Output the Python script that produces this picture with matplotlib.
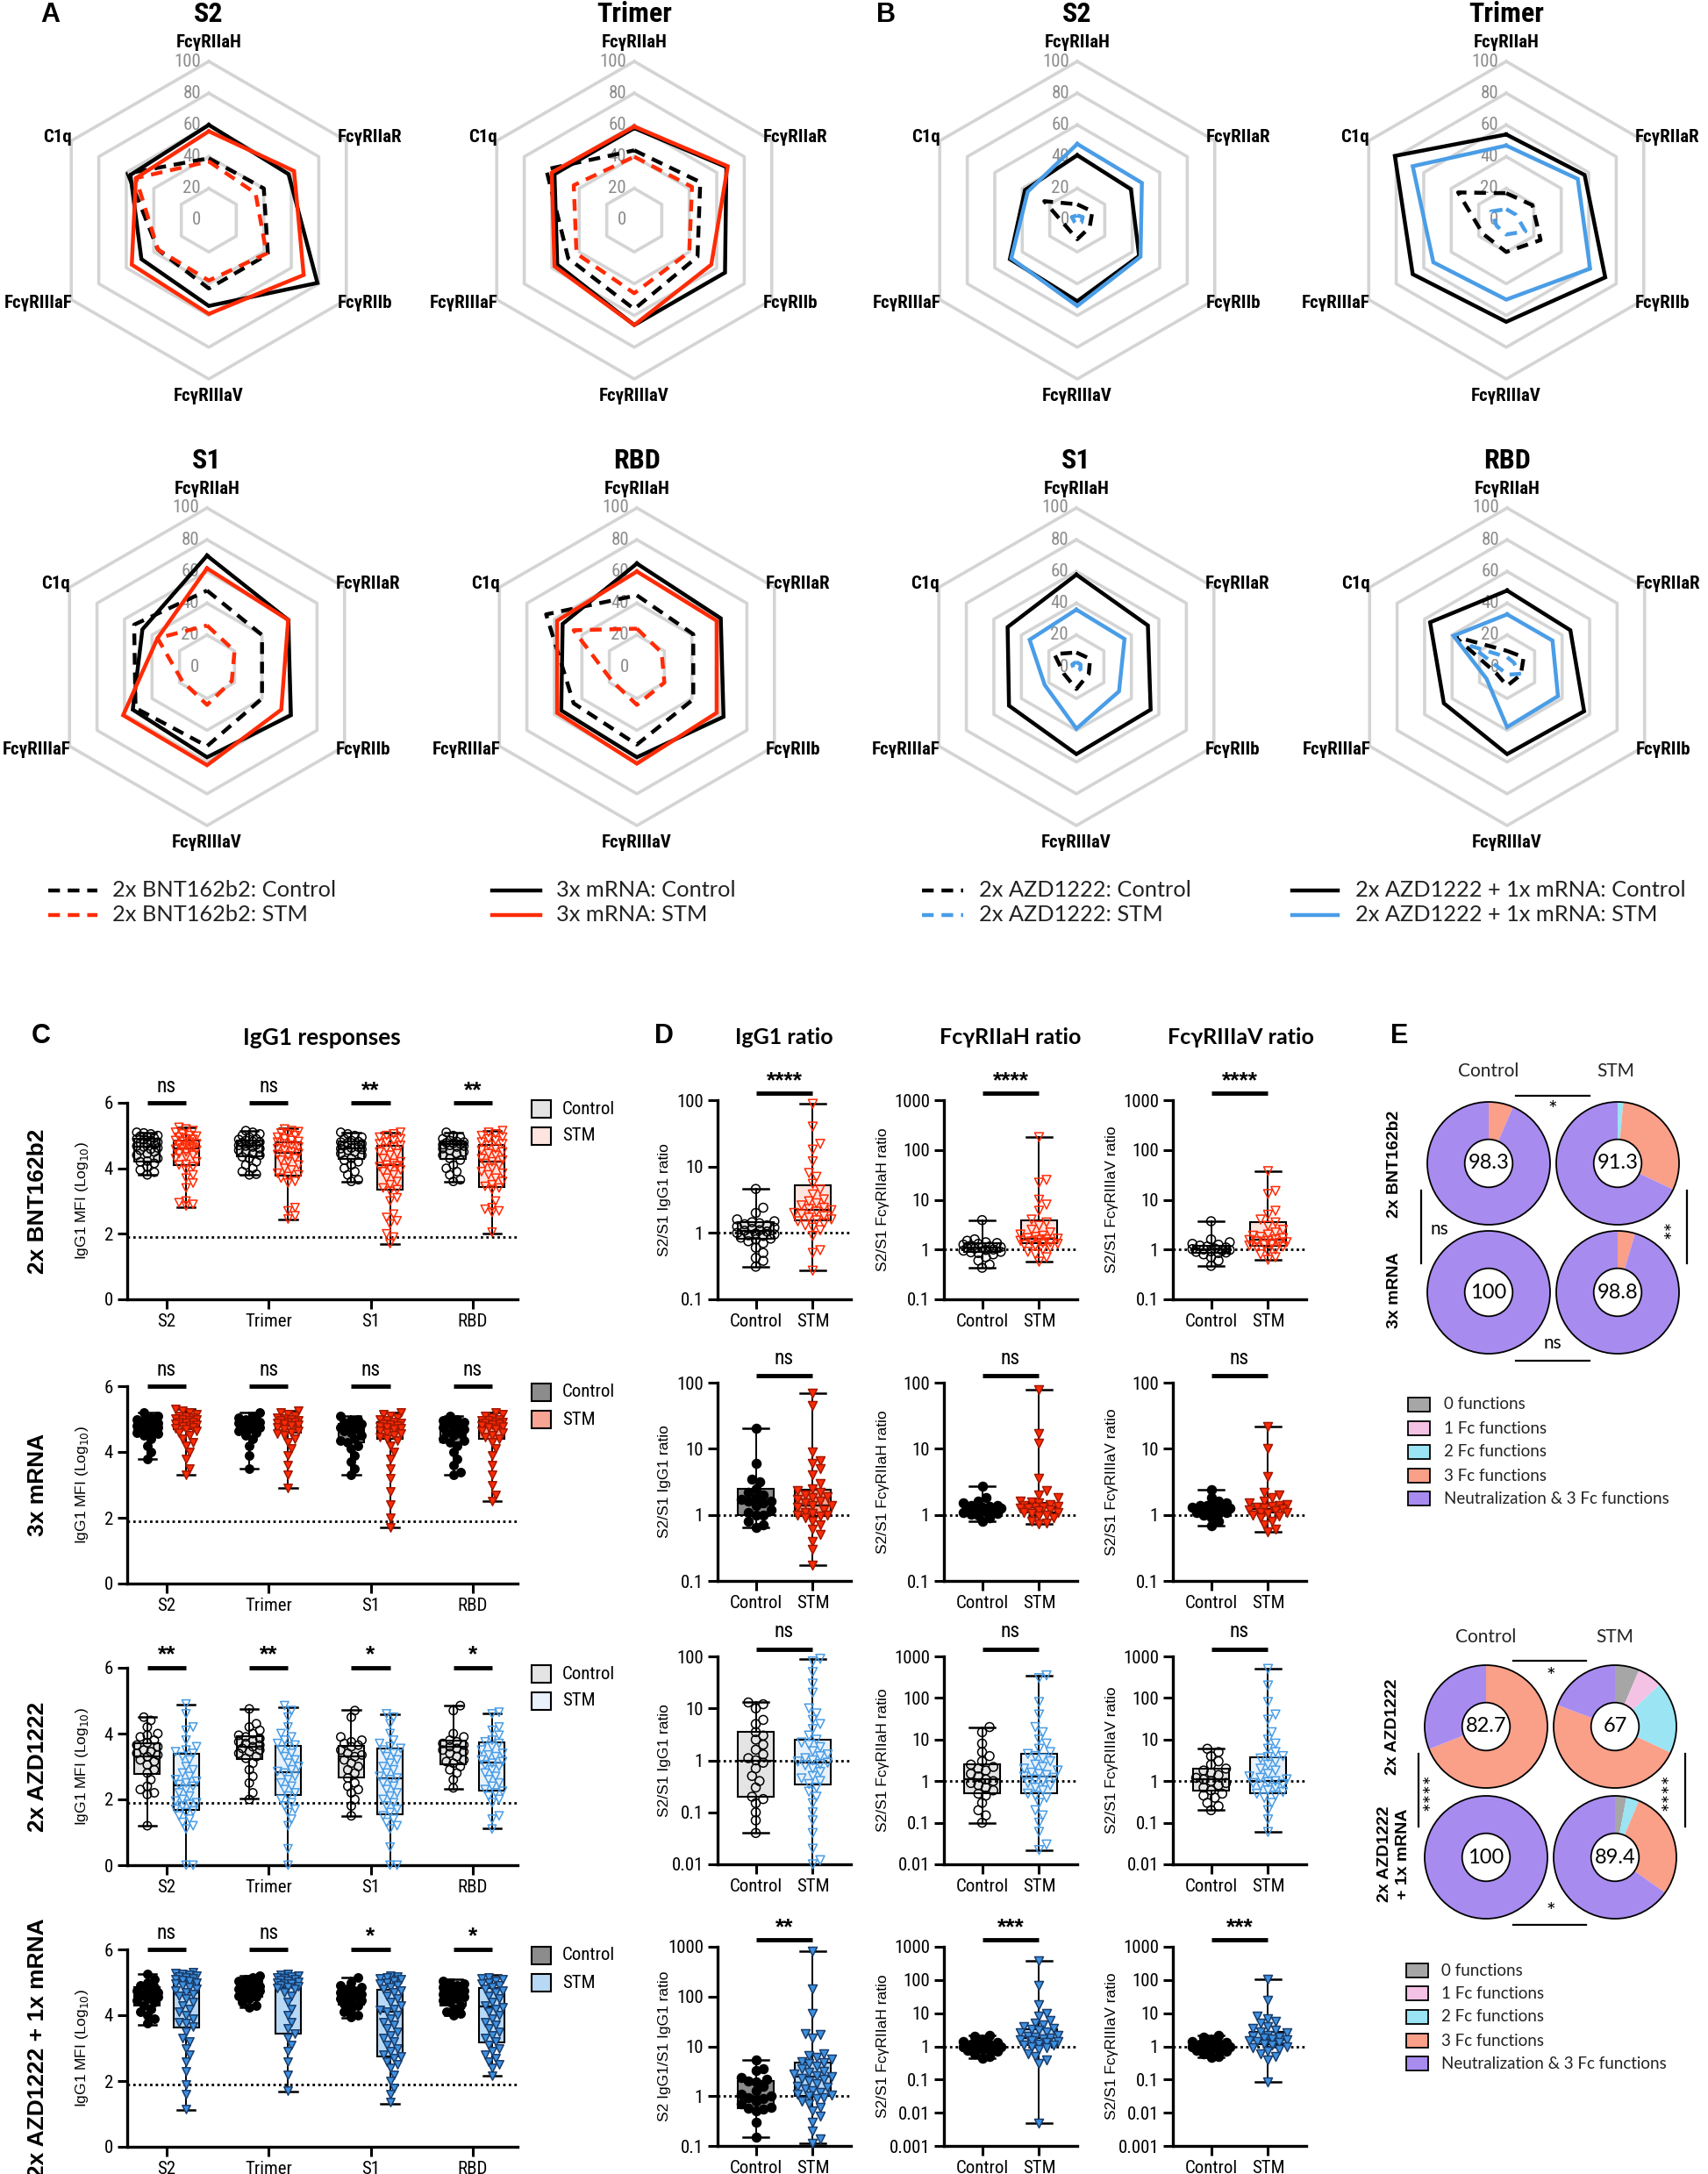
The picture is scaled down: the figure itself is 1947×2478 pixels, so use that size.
import os
import numpy as np
import matplotlib
matplotlib.use("Agg")
import matplotlib.pyplot as plt
from matplotlib import font_manager as fm
from matplotlib.font_manager import FontProperties
from matplotlib.patches import Rectangle, Circle
from matplotlib.lines import Line2D
import matplotlib.transforms as mtransforms

W, H = 1947, 2478
ARIAL = ["Liberation Sans", "DejaVu Sans"]
LATO = ["Lato", "DejaVu Sans"]
plt.rcParams["font.family"] = ARIAL

RED = "#ff2b06"
BLUE = "#4a9de6"
GRID = "#d4d4d4"

# ------------------------------------------------------------------
# DATA
# ------------------------------------------------------------------

# radar plots (A, B): % of max, order FcyRIIaH, FcyRIIaR, FcyRIIb, FcyRIIIaV, FcyRIIIaF, C1q
radar_labels = ["FcγRIIaH", "FcγRIIaR", "FcγRIIb", "FcγRIIIaV", "FcγRIIIaF", "C1q"]
radar_angles = [90, 30, -30, -90, 210, 150]
radar_levels = [0, 20, 40, 60, 80, 100]
radar_titles = ["S2", "Trimer", "S1", "RBD"]

A_bnt_ctrl = [[39, 40, 43, 43, 37, 59], [44, 48, 46, 56, 48, 64],
              [48, 40, 40, 50, 52, 53], [45, 41, 41, 49, 46, 66]]
A_bnt_stm = [[37, 34, 42, 38, 37, 53], [40, 42, 40, 46, 42, 44],
             [26, 20, 18, 24, 18, 36], [24, 18, 20, 24, 18, 46]]
A_mrna_ctrl = [[60, 58, 79, 54, 49, 57], [58, 67, 66, 66, 56, 58],
               [70, 59, 61, 57, 54, 47], [65, 61, 63, 57, 55, 54]]
A_mrna_stm = [[56, 62, 69, 59, 56, 53], [59, 68, 56, 66, 58, 60],
              [62, 59, 54, 62, 61, 36], [60, 58, 58, 61, 58, 58]]

B_azd_ctrl = [[10, 11, 9, 12, 8, 24], [17, 19, 25, 20, 17, 35],
              [9, 10, 9, 14, 9, 16], [10, 12, 10, 12, 8, 38]]
B_azd_stm = [[3, 4, 3, 3, 2, 4], [7, 7, 14, 9, 7, 11],
             [3, 3, 3, 3, 2, 3], [6, 5, 9, 5, 4, 26]]
B_boost_ctrl = [[41, 39, 45, 51, 49, 38], [54, 57, 72, 64, 68, 81],
                [58, 52, 54, 55, 49, 50], [48, 46, 56, 55, 46, 56]]
B_boost_stm = [[48, 47, 46, 54, 48, 36], [47, 52, 61, 50, 53, 68],
               [36, 35, 31, 39, 23, 34], [33, 33, 37, 38, 15, 39]]

A_legend = ["2x BNT162b2: Control", "2x BNT162b2: STM", "3x mRNA: Control", "3x mRNA: STM"]
B_legend = ["2x AZD1222: Control", "2x AZD1222: STM",
            "2x AZD1222 + 1x mRNA: Control", "2x AZD1222 + 1x mRNA: STM"]

# panel C: IgG1 MFI (log10), box stats = [min, q1, median, q3, max] for S2, Trimer, S1, RBD
c_antigens = ["S2", "Trimer", "S1", "RBD"]
c_rows = ["2x BNT162b2", "3x mRNA", "2x AZD1222", "2x AZD1222 + 1x mRNA"]
c_sig = [["ns", "ns", "**", "**"], ["ns", "ns", "ns", "ns"],
         ["**", "**", "*", "*"], ["ns", "ns", "*", "*"]]
c_lod = 1.9

c_bnt_ctrl_stats = [[3.8, 4.2, 4.65, 4.9, 5.1], [3.8, 4.37, 4.7, 4.86, 5.15],
                    [3.58, 4.28, 4.62, 4.81, 5.1], [3.6, 4.28, 4.73, 4.81, 5.1]]
c_bnt_stm_stats = [[2.82, 4.1, 4.6, 4.86, 5.26], [2.44, 3.79, 4.46, 4.79, 5.21],
                   [1.68, 3.35, 4.1, 4.7, 5.1], [2.02, 3.44, 4.21, 4.72, 5.15]]
c_mrna_ctrl_stats = [[3.8, 4.6, 4.85, 5.0, 5.2], [3.5, 4.65, 4.85, 5.0, 5.2],
                     [3.3, 4.3, 4.7, 4.85, 5.1], [3.3, 4.3, 4.65, 4.85, 5.1]]
c_mrna_stm_stats = [[3.3, 4.7, 4.9, 5.05, 5.3], [2.9, 4.6, 4.85, 5.0, 5.25],
                    [1.7, 4.4, 4.75, 4.9, 5.2], [2.5, 4.4, 4.8, 4.95, 5.2]]
c_azd_ctrl_stats = [[1.21, 2.78, 3.32, 3.72, 4.5], [2.03, 3.23, 3.6, 3.91, 4.76],
                    [1.49, 2.67, 3.32, 3.64, 4.71], [2.32, 3.07, 3.61, 3.78, 4.85]]
c_azd_stm_stats = [[0.0, 1.67, 2.44, 3.4, 4.87], [0.0, 2.13, 2.84, 3.63, 4.81],
                   [0.0, 1.56, 2.63, 3.54, 4.58], [1.11, 2.27, 3.11, 3.73, 4.62]]
c_boost_ctrl_stats = [[3.72, 4.3, 4.59, 4.86, 5.26], [4.25, 4.56, 4.86, 5.04, 5.21],
                      [3.92, 4.32, 4.56, 4.81, 5.14], [4.01, 4.3, 4.59, 4.86, 5.1]]
c_boost_stm_stats = [[1.11, 3.64, 4.7, 5.05, 5.3], [1.67, 3.43, 4.85, 4.97, 5.25],
                     [1.31, 2.76, 4.12, 4.77, 5.24], [2.16, 3.18, 4.26, 4.83, 5.23]]

c_bnt_ctrl_pts = [
    [5.1, 5.08, 5.05, 5.0, 4.98, 4.95, 4.92, 4.9, 4.88, 4.85, 4.8, 4.78, 4.75, 4.72, 4.68,
     4.65, 4.62, 4.58, 4.55, 4.5, 4.45, 4.4, 4.3, 4.22, 4.2, 4.15, 4.05, 3.95, 3.88, 3.8],
    [5.15, 5.1, 5.05, 5.0, 4.95, 4.9, 4.88, 4.85, 4.82, 4.8, 4.78, 4.75, 4.72, 4.7, 4.68,
     4.65, 4.6, 4.55, 4.5, 4.45, 4.4, 4.35, 4.3, 4.2, 4.1, 4.0, 3.9, 3.82, 3.8],
    [5.1, 5.05, 5.0, 4.95, 4.9, 4.85, 4.82, 4.8, 4.78, 4.75, 4.72, 4.7, 4.65, 4.62, 4.6,
     4.58, 4.55, 4.5, 4.45, 4.4, 4.3, 4.25, 4.2, 4.1, 4.0, 3.9, 3.8, 3.65, 3.6],
    [5.1, 5.0, 4.95, 4.9, 4.85, 4.82, 4.8, 4.78, 4.76, 4.74, 4.72, 4.7, 4.68, 4.65, 4.6,
     4.55, 4.5, 4.45, 4.4, 4.3, 4.25, 4.1, 4.0, 3.9, 3.8, 3.65, 3.6]]
c_bnt_stm_pts = [
    [5.25, 5.2, 5.15, 5.1, 5.05, 5.0, 4.98, 4.95, 4.9, 4.88, 4.85, 4.82, 4.8, 4.75, 4.72,
     4.7, 4.65, 4.62, 4.6, 4.58, 4.55, 4.5, 4.45, 4.4, 4.35, 4.3, 4.2, 4.12, 4.1, 4.05,
     3.95, 3.8, 3.7, 3.55, 3.4, 3.0, 2.95, 2.9, 2.85],
    [5.2, 5.15, 5.12, 5.08, 5.05, 5.0, 4.95, 4.9, 4.85, 4.82, 4.8, 4.75, 4.7, 4.65, 4.6,
     4.55, 4.5, 4.45, 4.42, 4.38, 4.3, 4.25, 4.2, 4.1, 4.0, 3.95, 3.85, 3.8, 3.75, 3.7,
     3.6, 3.55, 2.8, 2.7, 2.55, 2.45],
    [5.1, 5.05, 5.0, 4.95, 4.9, 4.85, 4.8, 4.75, 4.7, 4.65, 4.6, 4.5, 4.45, 4.4, 4.3,
     4.2, 4.15, 4.1, 4.08, 4.05, 4.0, 3.95, 3.9, 3.8, 3.7, 3.6, 3.5, 3.4, 3.35, 3.3,
     3.1, 3.0, 2.6, 2.5, 2.4, 2.3, 2.0, 1.9, 1.7],
    [5.15, 5.1, 5.05, 5.0, 4.95, 4.9, 4.85, 4.8, 4.75, 4.7, 4.6, 4.55, 4.5, 4.45, 4.4,
     4.3, 4.25, 4.2, 4.15, 4.1, 4.0, 3.9, 3.85, 3.8, 3.7, 3.6, 3.5, 3.45, 3.4, 3.35,
     3.0, 2.8, 2.75, 2.7, 2.65, 2.05]]
c_mrna_ctrl_pts = [
    [5.2, 5.1, 5.05, 5.0, 4.98, 4.95, 4.92, 4.9, 4.88, 4.85, 4.82, 4.8, 4.75, 4.7, 4.65,
     4.6, 4.55, 4.5, 4.4, 4.2, 4.0, 3.8],
    [5.2, 5.1, 5.05, 5.0, 4.97, 4.95, 4.92, 4.9, 4.87, 4.85, 4.82, 4.8, 4.75, 4.7, 4.65,
     4.6, 4.5, 4.4, 4.2, 3.9, 3.5],
    [5.1, 5.0, 4.95, 4.9, 4.85, 4.8, 4.75, 4.72, 4.7, 4.65, 4.6, 4.5, 4.4, 4.35, 4.3,
     4.2, 4.1, 3.9, 3.7, 3.5, 3.3],
    [5.1, 5.0, 4.95, 4.9, 4.85, 4.8, 4.75, 4.7, 4.65, 4.6, 4.55, 4.5, 4.4, 4.35, 4.3,
     4.2, 4.0, 3.8, 3.6, 3.4, 3.3]]
c_mrna_stm_pts = [
    [5.3, 5.25, 5.2, 5.15, 5.1, 5.08, 5.05, 5.02, 5.0, 4.98, 4.95, 4.92, 4.9, 4.88, 4.85,
     4.82, 4.8, 4.78, 4.75, 4.72, 4.7, 4.65, 4.6, 4.5, 4.4, 4.3, 4.2, 4.0, 3.8, 3.5, 3.3],
    [5.25, 5.2, 5.15, 5.1, 5.05, 5.02, 5.0, 4.97, 4.95, 4.92, 4.9, 4.87, 4.85, 4.82, 4.8,
     4.75, 4.7, 4.65, 4.6, 4.55, 4.5, 4.4, 4.3, 4.1, 3.9, 3.6, 3.3, 2.9],
    [5.2, 5.15, 5.1, 5.05, 5.0, 4.95, 4.9, 4.88, 4.85, 4.82, 4.8, 4.78, 4.75, 4.72, 4.7,
     4.65, 4.6, 4.55, 4.5, 4.45, 4.4, 4.35, 4.2, 4.0, 3.8, 3.5, 3.2, 2.8, 2.4, 2.0, 1.7],
    [5.2, 5.15, 5.1, 5.05, 5.0, 4.97, 4.95, 4.92, 4.9, 4.87, 4.85, 4.82, 4.8, 4.77, 4.75,
     4.7, 4.65, 4.6, 4.5, 4.45, 4.4, 4.3, 4.1, 3.9, 3.6, 3.3, 3.0, 2.7, 2.5]]
c_azd_ctrl_pts = [
    [4.5, 4.4, 4.2, 4.0, 3.95, 3.9, 3.8, 3.72, 3.65, 3.6, 3.5, 3.45, 3.4, 3.35, 3.3,
     3.2, 3.15, 3.05, 2.9, 2.8, 2.6, 2.4, 2.3, 2.2, 2.15, 1.2],
    [4.75, 4.3, 4.2, 4.1, 4.0, 3.95, 3.9, 3.85, 3.8, 3.75, 3.7, 3.65, 3.6, 3.55, 3.5,
     3.45, 3.4, 3.3, 3.25, 3.1, 2.9, 2.7, 2.5, 2.2, 2.0],
    [4.7, 4.5, 3.9, 3.8, 3.75, 3.7, 3.65, 3.6, 3.5, 3.4, 3.35, 3.3, 3.2, 3.1, 3.0,
     2.9, 2.8, 2.65, 2.5, 2.4, 2.3, 2.2, 2.0, 1.8, 1.5],
    [4.85, 4.7, 4.0, 3.9, 3.8, 3.75, 3.7, 3.65, 3.6, 3.55, 3.5, 3.45, 3.4, 3.3, 3.2,
     3.15, 3.1, 3.0, 2.9, 2.8, 2.6, 2.35]]
c_azd_stm_pts = [
    [4.9, 4.6, 4.2, 4.1, 3.8, 3.6, 3.5, 3.45, 3.4, 3.3, 3.2, 3.0, 2.9, 2.8, 2.7, 2.6,
     2.55, 2.5, 2.45, 2.4, 2.3, 2.2, 2.1, 2.0, 1.95, 1.9, 1.85, 1.8, 1.7, 1.65, 1.6,
     1.5, 1.4, 1.3, 1.2, 1.1, 0.0, 0.0],
    [4.85, 4.7, 4.5, 4.2, 4.0, 3.9, 3.8, 3.7, 3.65, 3.6, 3.5, 3.4, 3.3, 3.2, 3.1, 3.0,
     2.9, 2.85, 2.8, 2.7, 2.6, 2.5, 2.4, 2.3, 2.2, 2.1, 2.0, 1.9, 1.8, 1.7, 1.6, 1.4,
     1.2, 0.5, 0.0],
    [4.6, 4.5, 4.3, 4.0, 3.8, 3.7, 3.6, 3.55, 3.5, 3.4, 3.3, 3.2, 3.1, 3.0, 2.9, 2.8,
     2.7, 2.65, 2.6, 2.5, 2.4, 2.3, 2.2, 2.1, 2.0, 1.9, 1.8, 1.7, 1.6, 1.5, 1.4, 1.3,
     1.2, 1.1, 0.55, 0.0, 0.0],
    [4.65, 4.6, 4.2, 4.1, 3.95, 3.8, 3.75, 3.7, 3.6, 3.5, 3.4, 3.35, 3.3, 3.2, 3.15,
     3.1, 3.05, 3.0, 2.9, 2.8, 2.7, 2.6, 2.5, 2.4, 2.3, 2.25, 2.2, 2.1, 2.0, 1.9, 1.5,
     1.4, 1.1]]
c_boost_ctrl_pts = [
    [5.25, 5.1, 5.0, 4.9, 4.85, 4.8, 4.75, 4.7, 4.65, 4.62, 4.6, 4.55, 4.5, 4.45, 4.4,
     4.3, 4.2, 4.1, 4.0, 3.9, 3.75],
    [5.2, 5.15, 5.1, 5.05, 5.0, 4.95, 4.9, 4.88, 4.85, 4.82, 4.8, 4.75, 4.7, 4.65, 4.6,
     4.55, 4.5, 4.4, 4.3, 4.25],
    [5.15, 5.0, 4.9, 4.85, 4.8, 4.75, 4.7, 4.65, 4.6, 4.55, 4.5, 4.45, 4.4, 4.35, 4.3,
     4.2, 4.1, 4.0, 3.95],
    [5.05, 5.0, 4.95, 4.9, 4.85, 4.8, 4.75, 4.7, 4.65, 4.6, 4.55, 4.5, 4.45, 4.4, 4.3,
     4.2, 4.1, 4.05, 4.0]]
c_boost_stm_pts = [
    [5.3, 5.28, 5.25, 5.22, 5.2, 5.18, 5.15, 5.12, 5.1, 5.08, 5.05, 5.0, 4.95, 4.9, 4.85,
     4.8, 4.75, 4.7, 4.65, 4.6, 4.5, 4.4, 4.3, 4.2, 4.1, 4.0, 3.9, 3.8, 3.75, 3.65, 3.5,
     3.3, 3.2, 3.0, 2.8, 2.6, 2.3, 1.9, 1.6, 1.15],
    [5.25, 5.22, 5.2, 5.18, 5.15, 5.12, 5.1, 5.08, 5.05, 5.02, 5.0, 4.97, 4.95, 4.9, 4.87,
     4.85, 4.82, 4.8, 4.7, 4.6, 4.4, 4.2, 4.0, 3.8, 3.6, 3.45, 3.3, 3.1, 2.9, 2.6, 2.2, 1.7],
    [5.2, 5.18, 5.15, 5.12, 5.1, 5.05, 5.0, 4.95, 4.9, 4.85, 4.8, 4.75, 4.7, 4.6, 4.5,
     4.4, 4.3, 4.2, 4.15, 4.1, 4.0, 3.9, 3.8, 3.7, 3.6, 3.5, 3.4, 3.3, 3.2, 3.1, 3.0, 2.9,
     2.8, 2.75, 2.7, 2.6, 2.5, 2.4, 2.2, 2.0, 1.8, 1.6, 1.35],
    [5.15, 5.12, 5.1, 5.05, 5.0, 4.95, 4.9, 4.85, 4.8, 4.75, 4.7, 4.6, 4.5, 4.4, 4.3,
     4.25, 4.2, 4.1, 4.0, 3.9, 3.8, 3.7, 3.6, 3.5, 3.4, 3.3, 3.2, 3.1, 3.0, 2.9, 2.8,
     2.7, 2.6, 2.5, 2.4, 2.15]]

# panel D: S2/S1 ratios, box stats = [min, q1, median, q3, max] for IgG1, FcyRIIaH, FcyRIIIaV
d_titles = ["IgG1 ratio", "FcγRIIaH ratio", "FcγRIIIaV ratio"]
d_ylabels = ["S2/S1 IgG1 ratio", "S2/S1 FcγRIIaH ratio", "S2/S1 FcγRIIIaV ratio"]
d_ylabel_boost = "S2 IgG1/S1 IgG1 ratio"
d_groups = ["Control", "STM"]
d_sig = [["****", "****", "****"], ["ns", "ns", "ns"], ["ns", "ns", "ns"], ["**", "***", "***"]]

d_bnt_ctrl_stats = [[0.31, 0.82, 1.06, 1.44, 4.6], [0.43, 0.89, 1.11, 1.36, 3.9],
                    [0.47, 0.87, 1.0, 1.18, 3.7]]
d_bnt_stm_stats = [[0.27, 1.56, 2.2, 5.3, 88], [0.57, 1.32, 1.62, 3.9, 181],
                   [0.62, 1.18, 1.58, 3.5, 37.5]]
d_mrna_ctrl_stats = [[0.64, 1.0, 1.62, 2.5, 20.5], [0.79, 1.03, 1.24, 1.38, 2.7],
                     [0.69, 1.07, 1.27, 1.38, 2.4]]
d_mrna_stm_stats = [[0.175, 0.95, 1.39, 2.38, 69], [0.72, 1.09, 1.31, 1.52, 79],
                    [0.55, 1.07, 1.22, 1.48, 21.6]]
d_azd_ctrl_stats = [[0.04, 0.2, 1.0, 3.5, 13], [0.1, 0.5, 1.1, 2.5, 20],
                    [0.2, 0.6, 1.1, 2.0, 6]]
d_azd_stm_stats = [[0.01, 0.35, 0.9, 2.5, 90], [0.022, 0.5, 1.3, 4.5, 350],
                   [0.06, 0.5, 1.0, 3.8, 500]]
d_boost_ctrl_stats = [[0.15, 0.58, 0.97, 1.98, 5.4], [0.45, 0.74, 1.0, 1.19, 2.2],
                      [0.47, 0.8, 1.0, 1.3, 2.2]]
d_boost_stm_stats = [[0.113, 0.99, 2.42, 4.8, 800], [0.0048, 1.08, 1.8, 3.3, 377],
                     [0.087, 1.2, 1.6, 2.7, 106]]

d_bnt_ctrl_pts = [
    [4.6, 2.4, 2.0, 1.6, 1.5, 1.45, 1.4, 1.35, 1.3, 1.25, 1.2, 1.15, 1.1, 1.08, 1.05, 1.0,
     0.98, 0.95, 0.92, 0.9, 0.85, 0.82, 0.8, 0.75, 0.7, 0.6, 0.5, 0.42, 0.38, 0.31],
    [3.9, 1.6, 1.5, 1.4, 1.35, 1.3, 1.25, 1.2, 1.15, 1.12, 1.1, 1.08, 1.05, 1.0, 0.98,
     0.95, 0.9, 0.88, 0.85, 0.8, 0.7, 0.6, 0.5, 0.43],
    [3.7, 1.6, 1.4, 1.3, 1.25, 1.2, 1.15, 1.1, 1.05, 1.02, 1.0, 0.98, 0.95, 0.92, 0.9,
     0.87, 0.85, 0.8, 0.7, 0.6, 0.47]]
d_bnt_stm_pts = [
    [88, 40, 22, 18, 12, 8, 7, 5.5, 4.5, 3.8, 3.2, 3.0, 2.8, 2.6, 2.4, 2.3, 2.2, 2.1, 2.0,
     1.9, 1.8, 1.7, 1.6, 1.55, 1.5, 1.4, 1.3, 1.2, 1.1, 0.9, 0.55, 0.5, 0.27],
    [181, 25, 22, 10, 8, 6, 4, 3.5, 3, 2.5, 2.2, 2.0, 1.9, 1.8, 1.7, 1.65, 1.6, 1.55, 1.5,
     1.45, 1.4, 1.35, 1.3, 1.25, 1.2, 1.1, 1.0, 0.9, 0.8, 0.7, 0.57],
    [37.5, 15, 13, 6, 5, 4, 3.5, 3.0, 2.5, 2.2, 2.0, 1.9, 1.8, 1.7, 1.6, 1.55, 1.5, 1.45,
     1.4, 1.35, 1.3, 1.25, 1.2, 1.15, 1.1, 1.0, 0.9, 0.8, 0.7, 0.62]]
d_mrna_ctrl_pts = [
    [20.5, 6.0, 3.5, 3.2, 2.5, 2.2, 2.0, 1.8, 1.7, 1.62, 1.6, 1.5, 1.4, 1.2, 1.1, 1.0,
     0.98, 0.8, 0.7, 0.64],
    [2.7, 1.8, 1.6, 1.5, 1.4, 1.38, 1.35, 1.3, 1.28, 1.25, 1.22, 1.2, 1.15, 1.1, 1.05,
     1.03, 1.0, 0.9, 0.79],
    [2.4, 1.8, 1.6, 1.5, 1.4, 1.38, 1.35, 1.3, 1.28, 1.25, 1.2, 1.15, 1.1, 1.07, 1.05,
     1.0, 0.9, 0.8, 0.69]]
d_mrna_stm_pts = [
    [69, 45, 9, 6.5, 6, 5, 4, 3, 2.5, 2.3, 2.2, 2.0, 1.9, 1.8, 1.7, 1.6, 1.5, 1.4, 1.38,
     1.3, 1.2, 1.1, 1.05, 1.0, 0.98, 0.95, 0.9, 0.8, 0.7, 0.6, 0.5, 0.4, 0.3, 0.175],
    [79, 17, 12, 3.6, 2.3, 2.0, 1.8, 1.6, 1.55, 1.5, 1.45, 1.4, 1.35, 1.32, 1.3, 1.28,
     1.25, 1.2, 1.15, 1.1, 1.09, 1.05, 1.0, 0.95, 0.9, 0.8, 0.75, 0.72],
    [21.6, 10, 3.8, 2.2, 2.0, 1.8, 1.6, 1.5, 1.45, 1.4, 1.35, 1.3, 1.25, 1.22, 1.2, 1.15,
     1.1, 1.07, 1.05, 1.0, 0.95, 0.9, 0.8, 0.7, 0.6, 0.55]]
d_azd_ctrl_pts = [
    [13, 12, 10, 6, 5, 3.5, 3.0, 2.5, 2.0, 1.6, 1.3, 1.1, 1.0, 0.9, 0.7, 0.5, 0.4, 0.3,
     0.2, 0.18, 0.15, 0.1, 0.07, 0.04],
    [20, 15, 8, 5, 4, 3, 2.5, 2.2, 2.0, 1.8, 1.5, 1.3, 1.1, 1.0, 0.9, 0.8, 0.7, 0.6, 0.5,
     0.45, 0.3, 0.2, 0.15, 0.1],
    [6, 5, 4, 3, 2.5, 2.0, 1.8, 1.6, 1.4, 1.2, 1.1, 1.0, 0.9, 0.8, 0.7, 0.6, 0.5, 0.45,
     0.4, 0.3, 0.25, 0.2]]
d_azd_stm_pts = [
    [90, 80, 50, 30, 20, 10, 8, 6, 5, 4, 3, 2.5, 2.2, 2.0, 1.8, 1.5, 1.3, 1.2, 1.1, 1.0,
     0.95, 0.9, 0.85, 0.8, 0.7, 0.6, 0.5, 0.45, 0.4, 0.35, 0.3, 0.25, 0.2, 0.15, 0.1,
     0.07, 0.04, 0.02, 0.012, 0.01],
    [350, 300, 80, 40, 20, 15, 10, 8, 6, 5, 4.5, 4, 3.5, 3, 2.5, 2.2, 2.0, 1.8, 1.6, 1.5,
     1.4, 1.3, 1.2, 1.1, 1.0, 0.9, 0.8, 0.7, 0.6, 0.5, 0.45, 0.4, 0.3, 0.2, 0.15, 0.1,
     0.06, 0.03, 0.022],
    [500, 200, 80, 40, 30, 15, 10, 8, 6, 5, 4, 3.8, 3.5, 3, 2.5, 2.0, 1.8, 1.5, 1.3, 1.2,
     1.1, 1.0, 0.95, 0.9, 0.85, 0.8, 0.7, 0.6, 0.55, 0.5, 0.45, 0.4, 0.3, 0.2, 0.12, 0.06]]
d_boost_ctrl_pts = [
    [5.4, 3.6, 3.3, 2.4, 2.2, 2.0, 1.9, 1.6, 1.3, 1.1, 1.0, 0.95, 0.9, 0.8, 0.7, 0.6,
     0.58, 0.55, 0.5, 0.3, 0.15],
    [2.2, 2.0, 1.5, 1.4, 1.3, 1.2, 1.15, 1.1, 1.05, 1.0, 0.98, 0.95, 0.9, 0.85, 0.8, 0.75,
     0.7, 0.6, 0.5, 0.45],
    [2.2, 1.9, 1.5, 1.4, 1.3, 1.25, 1.2, 1.1, 1.05, 1.0, 0.98, 0.95, 0.9, 0.85, 0.8, 0.75,
     0.7, 0.6, 0.5, 0.47]]
d_boost_stm_pts = [
    [800, 140, 45, 18, 17, 15, 7, 6.5, 6, 5.5, 5, 4.8, 4.5, 4, 3.5, 3.2, 3, 2.8, 2.6, 2.42,
     2.3, 2.2, 2.0, 1.8, 1.6, 1.5, 1.4, 1.3, 1.2, 1.1, 1.05, 1.0, 0.95, 0.9, 0.8, 0.7,
     0.6, 0.5, 0.4, 0.3, 0.2, 0.14, 0.113],
    [377, 70, 18, 10, 8, 6, 5, 4.5, 4, 3.5, 3.3, 3, 2.8, 2.5, 2.2, 2.0, 1.9, 1.8, 1.7,
     1.6, 1.5, 1.4, 1.3, 1.2, 1.1, 1.08, 1.0, 0.9, 0.8, 0.6, 0.5, 0.4, 0.3, 0.0048],
    [106, 25, 8, 7, 5.5, 5, 4, 3.5, 3, 2.7, 2.5, 2.2, 2.0, 1.9, 1.8, 1.7, 1.6, 1.5, 1.4,
     1.3, 1.2, 1.1, 1.0, 0.9, 0.8, 0.7, 0.6, 0.5, 0.4, 0.087]]

# panel E: polyfunctionality (% of donors), categories in legend order
e_categories = ["0 functions", "1 Fc functions", "2 Fc functions", "3 Fc functions",
                "Neutralization & 3 Fc functions"]
e_colors = ["#a6a6a6", "#f4c2e4", "#9ae4f4", "#fa9f88", "#a88bef"]
e_bnt_ctrl = [0, 0, 0, 6.5, 93.5]
e_bnt_stm = [0, 0, 1.5, 30.5, 68.0]
e_mrna_ctrl = [0, 0, 0, 0, 100]
e_mrna_stm = [0, 0, 0, 4.6, 95.4]
e_azd_ctrl = [0, 0, 0, 69.0, 31.0]
e_azd_stm = [6.4, 6.6, 19.0, 48.7, 19.3]
e_boost_ctrl = [0, 0, 0, 0, 100]
e_boost_stm = [3.0, 0, 3.4, 28.4, 65.2]
e_scores_top = ["98.3", "91.3", "100", "98.8"]
e_scores_bottom = ["82.7", "67", "100", "89.4"]


# ------------------------------------------------------------------
# condensed font lookup (falls back to a smaller Liberation Sans)
# ------------------------------------------------------------------
def find_condensed(bold):
    prefs = ["liberationsansnarrow", "robotocondensed", "notosans-condensed",
             "dejavusanscondensed", "opensanscondensed", "opensans_condensed"]
    for p in prefs:
        for f in fm.fontManager.ttflist:
            base = os.path.basename(f.fname).replace(" ", "").lower()
            if p not in base or f.style != "normal":
                continue
            w = f.weight if isinstance(f.weight, int) else fm.weight_dict.get(f.weight, 400)
            if (bold and 600 <= w <= 700) or (not bold and w == 400):
                return f.fname
    return None


COND_R = find_condensed(False)
COND_B = find_condensed(True)


def nfont(size, bold=False):
    path = COND_B if bold else COND_R
    if path:
        return FontProperties(fname=path, size=size)
    return FontProperties(family=ARIAL, weight="bold" if bold else "normal", size=size * 0.84)


# ------------------------------------------------------------------
# FIGURE
# ------------------------------------------------------------------
fig = plt.figure(figsize=(W / 100, H / 100), dpi=100)


def px_axes(x0, y0, x1, y1):
    return fig.add_axes([x0 / W, 1 - y1 / H, (x1 - x0) / W, (y1 - y0) / H])


def swarm(ypix, diam, maxw):
    # simple beeswarm: put each point as close to the centre as it fits
    ypix = np.asarray(ypix, float)
    xs = np.zeros(len(ypix))
    step = diam * 0.5
    cands = [0.0]
    k = 1
    while k * step <= maxw:
        cands += [k * step, -k * step]
        k += 1
    px, py = [], []
    for i in np.argsort(ypix):
        y = ypix[i]
        best, best_d = 0.0, -1.0
        for c in cands:
            d = np.inf if not px else np.min((np.array(px) - c) ** 2 + (np.array(py) - y) ** 2)
            if d >= diam ** 2:
                best = c
                break
            if d > best_d:
                best, best_d = c, d
        xs[i] = best
        px.append(best)
        py.append(y)
    return xs


# ---------------- radar panels (A, B) ----------------
R_PX = 181


def radar(cx, cy, title, series):
    half = 270
    ax = px_axes(cx - half, cy - half, cx + half, cy + half)
    lim = half / R_PX * 100
    ax.set_xlim(-lim, lim)
    ax.set_ylim(-lim, lim)
    ax.axis("off")
    th = np.deg2rad(radar_angles + radar_angles[:1])
    for lev in radar_levels[1:]:
        ax.plot(lev * np.cos(th), lev * np.sin(th), color=GRID, lw=2.6, zorder=1)
    for lev in radar_levels:
        ax.text(-5, lev, str(lev), ha="right", va="center", color="#8c8c8c",
                fontproperties=nfont(15))
    for vals, color, ls in series:
        v = np.array(vals + vals[:1], float)
        ax.plot(v * np.cos(th), v * np.sin(th), color=color, lw=3.2,
                ls=ls, zorder=3, solid_joinstyle="miter")
    lab_pos = [(0, 112, "center"), (81, 52, "left"), (81, -52, "left"),
               (0, -111, "center"), (-86, -52, "right"), (-86, 52, "right")]
    for name, (x, y, ha) in zip(radar_labels, lab_pos):
        ax.text(x, y, name, ha=ha, va="center", fontproperties=nfont(15, True))
    ax.text(0, 130, title, ha="center", va="center", fontproperties=nfont(23, True))


DASH = (0, (3, 2))
a_centres = [(238, 251), (723, 251), (236, 760), (726, 760)]
b_centres = [(1228, 251), (1717, 251), (1227, 760), (1718, 760)]
for i in range(4):
    radar(*a_centres[i], radar_titles[i],
          [(A_bnt_ctrl[i], "black", DASH), (A_bnt_stm[i], RED, DASH),
           (A_mrna_ctrl[i], "black", "-"), (A_mrna_stm[i], RED, "-")])
    radar(*b_centres[i], radar_titles[i],
          [(B_azd_ctrl[i], "black", DASH), (B_azd_stm[i], BLUE, DASH),
           (B_boost_ctrl[i], "black", "-"), (B_boost_stm[i], BLUE, "-")])

# ---------------- panel C ----------------
c_y_top = [1257, 1580, 1901, 2222]
c_y_bot = [1481, 1805, 2126, 2447]
C_X0, C_X1 = 145, 590
C_XLIM = (-0.387, 3.44)

row_styles = [
    dict(cf="#e4e4e4", sf="#fde4df", cm=("o", "none", "black"), sm=("v", "none", RED)),
    dict(cf="#8c8c8c", sf="#f6a594", cm=("o", "black", "black"), sm=("v", RED, "#a01800")),
    dict(cf="#e4e4e4", sf="#e9f2fb", cm=("o", "none", "black"), sm=("v", "none", BLUE)),
    dict(cf="#8c8c8c", sf="#b8d9f5", cm=("o", "black", "black"), sm=("v", "#3e92e2", "#1a3c6a")),
]

c_stats = [(c_bnt_ctrl_stats, c_bnt_stm_stats), (c_mrna_ctrl_stats, c_mrna_stm_stats),
           (c_azd_ctrl_stats, c_azd_stm_stats), (c_boost_ctrl_stats, c_boost_stm_stats)]
c_pts = [(c_bnt_ctrl_pts, c_bnt_stm_pts), (c_mrna_ctrl_pts, c_mrna_stm_pts),
         (c_azd_ctrl_pts, c_azd_stm_pts), (c_boost_ctrl_pts, c_boost_stm_pts)]
d_stats = [(d_bnt_ctrl_stats, d_bnt_stm_stats), (d_mrna_ctrl_stats, d_mrna_stm_stats),
           (d_azd_ctrl_stats, d_azd_stm_stats), (d_boost_ctrl_stats, d_boost_stm_stats)]
d_pts = [(d_bnt_ctrl_pts, d_bnt_stm_pts), (d_mrna_ctrl_pts, d_mrna_stm_pts),
         (d_azd_ctrl_pts, d_azd_stm_pts), (d_boost_ctrl_pts, d_boost_stm_pts)]


def boxes(ax, pos, stats, width, face):
    st = [dict(whislo=s[0], q1=s[1], med=s[2], q3=s[3], whishi=s[4], fliers=[]) for s in stats]
    ax.bxp(st, positions=pos, widths=width, patch_artist=True, showfliers=False,
           manage_ticks=False, capwidths=width * 0.7,
           boxprops=dict(facecolor=face, edgecolor="black", linewidth=1.5, zorder=2),
           medianprops=dict(color="black", linewidth=1.6, zorder=2.5),
           whiskerprops=dict(color="black", linewidth=1.4, zorder=1.5),
           capprops=dict(color="black", linewidth=1.8, zorder=1.5))


def style_axes(ax):
    for s in ["top", "right"]:
        ax.spines[s].set_visible(False)
    for s in ["left", "bottom"]:
        ax.spines[s].set_linewidth(2.4)
    ax.tick_params(width=2.2, length=8)
    ax.patch.set_alpha(0)


def narrow_ticks(ax, size=15):
    for lbl in ax.get_xticklabels() + ax.get_yticklabels():
        lbl.set_fontproperties(nfont(size))


for r in range(4):
    st = row_styles[r]
    ax = px_axes(C_X0, c_y_top[r], C_X1, c_y_bot[r])
    ax.set_xlim(*C_XLIM)
    ax.set_ylim(0, 6)
    style_axes(ax)
    ax.set_yticks([0, 2, 4, 6])
    ax.set_xticks(range(4))
    ax.set_xticklabels(c_antigens)
    narrow_ticks(ax)
    ax.axhline(c_lod, color="black", ls=(0, (1, 1.3)), lw=2, zorder=3)
    ppy = (c_y_bot[r] - c_y_top[r]) / 6.0
    ppx = (C_X1 - C_X0) / (C_XLIM[1] - C_XLIM[0])
    for k, off in enumerate([-0.19, 0.19]):
        face = st["cf"] if k == 0 else st["sf"]
        mk = st["cm"] if k == 0 else st["sm"]
        boxes(ax, [g + off for g in range(4)], c_stats[r][k], 0.25, face)
        for g in range(4):
            vals = np.array(c_pts[r][k][g], float)
            xo = swarm(vals * ppy, 8.0, 15) / ppx
            ax.scatter(g + off + xo, vals, s=46, marker=mk[0], facecolors=mk[1],
                       edgecolors=mk[2], linewidths=1.1, zorder=4, clip_on=False)
    for g in range(4):
        ax.plot([g - 0.19, g + 0.19], [6, 6], color="black", lw=3.5,
                solid_capstyle="butt", clip_on=False)
        sig = c_sig[r][g]
        if sig == "ns":
            ax.text(g, 6.5, sig, ha="center", va="center", fontproperties=nfont(17))
        else:
            ax.text(g, 6.38, sig, ha="center", va="center", fontsize=19, weight="bold",
                    family=ARIAL)
    ax.text(-0.115, 0.5, "IgG1 MFI (Log$_{10}$)", transform=ax.transAxes, rotation=90,
            ha="center", va="center", fontsize=12.5, family=ARIAL)

# ---------------- panel D ----------------
d_x_left = [818, 1076, 1337]
D_W = 152
d_y_top = [1254, 1576, 1888, 2219]
d_y_bot = [1481, 1802, 2125, 2446]
d_ylims = [[(0.1, 100), (0.1, 1000), (0.1, 1000)],
           [(0.1, 100), (0.1, 100), (0.1, 100)],
           [(0.01, 100), (0.01, 1000), (0.01, 1000)],
           [(0.1, 1000), (0.001, 1000), (0.001, 1000)]]
D_XLIM = (-0.67, 1.67)
d_ylabel_x = [-0.40, -0.46, -0.46]

for r in range(4):
    st = row_styles[r]
    for c in range(3):
        lo, hi = d_ylims[r][c]
        ax = px_axes(d_x_left[c], d_y_top[r], d_x_left[c] + D_W, d_y_bot[r])
        ax.set_yscale("log")
        ax.set_ylim(lo, hi)
        ax.set_xlim(*D_XLIM)
        style_axes(ax)
        ax.minorticks_off()
        dec = np.arange(int(round(np.log10(lo))), int(round(np.log10(hi))) + 1)
        ax.set_yticks(10.0 ** dec)
        ax.set_yticklabels([f"{10.0 ** d:g}" for d in dec])
        ax.set_xticks([0, 1])
        ax.set_xticklabels(d_groups)
        narrow_ticks(ax)
        ax.axhline(1, color="black", ls=(0, (1, 1.3)), lw=2, zorder=3)
        ppd = (d_y_bot[r] - d_y_top[r]) / (np.log10(hi) - np.log10(lo))
        ppx = D_W / (D_XLIM[1] - D_XLIM[0])
        for k in range(2):
            face = st["cf"] if k == 0 else st["sf"]
            mk = st["cm"] if k == 0 else st["sm"]
            boxes(ax, [k], [d_stats[r][k][c]], 0.64, face)
            vals = np.array(d_pts[r][k][c], float)
            xo = swarm(np.log10(vals) * ppd, 8.5, 24) / ppx
            ax.scatter(k + xo, vals, s=52, marker=mk[0], facecolors=mk[1],
                       edgecolors=mk[2], linewidths=1.1, zorder=4, clip_on=False)
        tr = mtransforms.blended_transform_factory(ax.transData, ax.transAxes)
        ax.plot([0, 1], [1.035, 1.035], color="black", lw=3.5, transform=tr,
                solid_capstyle="butt", clip_on=False)
        sig = d_sig[r][c]
        if sig == "ns":
            ax.text(0.5, 1.12, sig, ha="center", va="center", fontproperties=nfont(17),
                    transform=tr)
        else:
            ax.text(0.5, 1.095, sig, ha="center", va="center", fontsize=19,
                    weight="bold", family=ARIAL, transform=tr)
        ylab = d_ylabel_boost if (r == 3 and c == 0) else d_ylabels[c]
        ax.text(d_ylabel_x[c], 0.5, ylab, transform=ax.transAxes, rotation=90,
                ha="center", va="center", fontsize=12.5, family=ARIAL)

# ---------------- panel E ----------------
E_R = 70


def donut(cx, cy, fracs, score):
    pad = 4
    ax = px_axes(cx - E_R - pad, cy - E_R - pad, cx + E_R + pad, cy + E_R + pad)
    ax.pie(fracs, colors=e_colors, startangle=90, counterclock=False, radius=1,
           wedgeprops=dict(linewidth=0))
    lim = (E_R + pad) / E_R
    ax.set_xlim(-lim, lim)
    ax.set_ylim(-lim, lim)
    ax.add_patch(Circle((0, 0), 1, fill=False, ec="black", lw=1.3))
    ax.add_patch(Circle((0, 0), 0.39, fc="white", ec="black", lw=1.3, zorder=5))
    ax.text(0, 0, score, ha="center", va="center", fontsize=17, family=LATO, zorder=6)


e_top = [(1697, 1326), (1844, 1326), (1697, 1473), (1844, 1473)]
e_bot = [(1694, 1968), (1841, 1968), (1694, 2117), (1841, 2117)]
for (cx, cy), fr, sc in zip(e_top, [e_bnt_ctrl, e_bnt_stm, e_mrna_ctrl, e_mrna_stm], e_scores_top):
    donut(cx, cy, fr, sc)
for (cx, cy), fr, sc in zip(e_bot, [e_azd_ctrl, e_azd_stm, e_boost_ctrl, e_boost_stm], e_scores_bottom):
    donut(cx, cy, fr, sc)

# ---------------- overlay: letters, titles, legends ----------------
ov = fig.add_axes([0, 0, 1, 1])
ov.set_xlim(0, W)
ov.set_ylim(H, 0)
ov.axis("off")

for letter, x, y in [("A", 57, 17), ("B", 1010, 17), ("C", 47, 1181), ("D", 757, 1181),
                     ("E", 1595, 1181)]:
    ov.text(x, y, letter, ha="center", va="center", fontsize=22, weight="bold", family=ARIAL)

# A / B legends
leg_rows = [1015, 1043]
for labels, color, cols in [(A_legend, RED, [(55, 111, 128), (561, 616, 634)]),
                            (B_legend, BLUE, [(1051, 1098, 1116), (1473, 1525, 1545)])]:
    for j in range(4):
        x0, x1, xt = cols[j // 2]
        y = leg_rows[j % 2]
        col = "black" if j % 2 == 0 else color
        ls = DASH if j < 2 else "-"
        ov.add_line(Line2D([x0, x1], [y, y], color=col, lw=3.2, ls=ls))
        ov.text(xt, y, labels[j], ha="left", va="center", fontsize=18.3, family=LATO,
                color="#222222")

# C and D headings
ov.text(367, 1183, "IgG1 responses", ha="center", va="center", fontsize=19,
        weight="bold", family=LATO)
for x, t in zip([894, 1152, 1414], d_titles):
    ov.text(x, 1183, t, ha="center", va="center", fontsize=18, weight="bold", family=LATO)

# C row labels and legends
for r in range(4):
    yc = (c_y_top[r] + c_y_bot[r]) / 2
    ov.text(43, yc, c_rows[r], rotation=90, ha="center", va="center", fontsize=19,
            weight="bold", family=ARIAL)
    st = row_styles[r]
    for k, (lab, face) in enumerate([("Control", st["cf"]), ("STM", st["sf"])]):
        yy = c_y_top[r] + 7 + 31 * k
        ov.add_patch(Rectangle((606, yy - 10), 22, 20, fc=face, ec="black", lw=1.5))
        ov.text(641, yy, lab, ha="left", va="center", fontproperties=nfont(15))

# E annotations
for ys, names, cxs in [(1221, ["Control", "STM"], [1697, 1842]),
                       (1866, ["Control", "STM"], [1694, 1841])]:
    for n, x in zip(names, cxs):
        ov.text(x, ys, n, ha="center", va="center", fontsize=15, family=LATO, color="#222222")

ov.plot([1728, 1812], [1249, 1249], color="black", lw=1.6)
ov.text(1770, 1266, "*", ha="center", va="center", fontsize=18, family=LATO)
ov.plot([1620, 1620], [1357, 1440], color="black", lw=1.6)
ov.text(1641, 1401, "ns", ha="center", va="center", fontsize=15, family=LATO)
ov.plot([1923, 1923], [1357, 1440], color="black", lw=1.6)
ov.text(1908, 1401, "**", ha="center", va="center", fontsize=18, family=LATO, rotation=90)
ov.plot([1728, 1812], [1551, 1551], color="black", lw=1.6)
ov.text(1770, 1531, "ns", ha="center", va="center", fontsize=15, family=LATO)
ov.text(1590, 1327, "2x BNT162b2", rotation=90, ha="center", va="center", fontsize=14,
        weight="bold", family=ARIAL)
ov.text(1590, 1471, "3x mRNA", rotation=90, ha="center", va="center", fontsize=14,
        weight="bold", family=ARIAL)

ov.plot([1725, 1808], [1893, 1893], color="black", lw=1.6)
ov.text(1768, 1911, "*", ha="center", va="center", fontsize=18, family=LATO)
ov.plot([1617, 1617], [1999, 2082], color="black", lw=1.6)
ov.text(1633, 2043, "****", ha="center", va="center", fontsize=18, family=LATO, rotation=90)
ov.plot([1921, 1921], [1999, 2082], color="black", lw=1.6)
ov.text(1905, 2043, "****", ha="center", va="center", fontsize=18, family=LATO, rotation=90)
ov.plot([1725, 1808], [2194, 2194], color="black", lw=1.6)
ov.text(1768, 2180, "*", ha="center", va="center", fontsize=18, family=LATO)
ov.text(1587, 1968, "2x AZD1222", rotation=90, ha="center", va="center", fontsize=14,
        weight="bold", family=ARIAL)
ov.text(1589, 2113, "2x AZD1222\n+ 1x mRNA", rotation=90, ha="center", va="center",
        fontsize=14, weight="bold", family=ARIAL, linespacing=1.25)

for rows_y, x_sq, x_txt in [([1601, 1628, 1655, 1682, 1708], 1605, 1646),
                            ([2246, 2272, 2299, 2326, 2352], 1603, 1643)]:
    for cat, colr, y in zip(e_categories, e_colors, rows_y):
        ov.add_patch(Rectangle((x_sq, y - 8), 25, 16, fc=colr, ec="black", lw=1.3))
        ov.text(x_txt, y, cat, ha="left", va="center", fontsize=13.5, family=LATO,
                color="#222222")

fig.savefig("out.png", dpi=100)
